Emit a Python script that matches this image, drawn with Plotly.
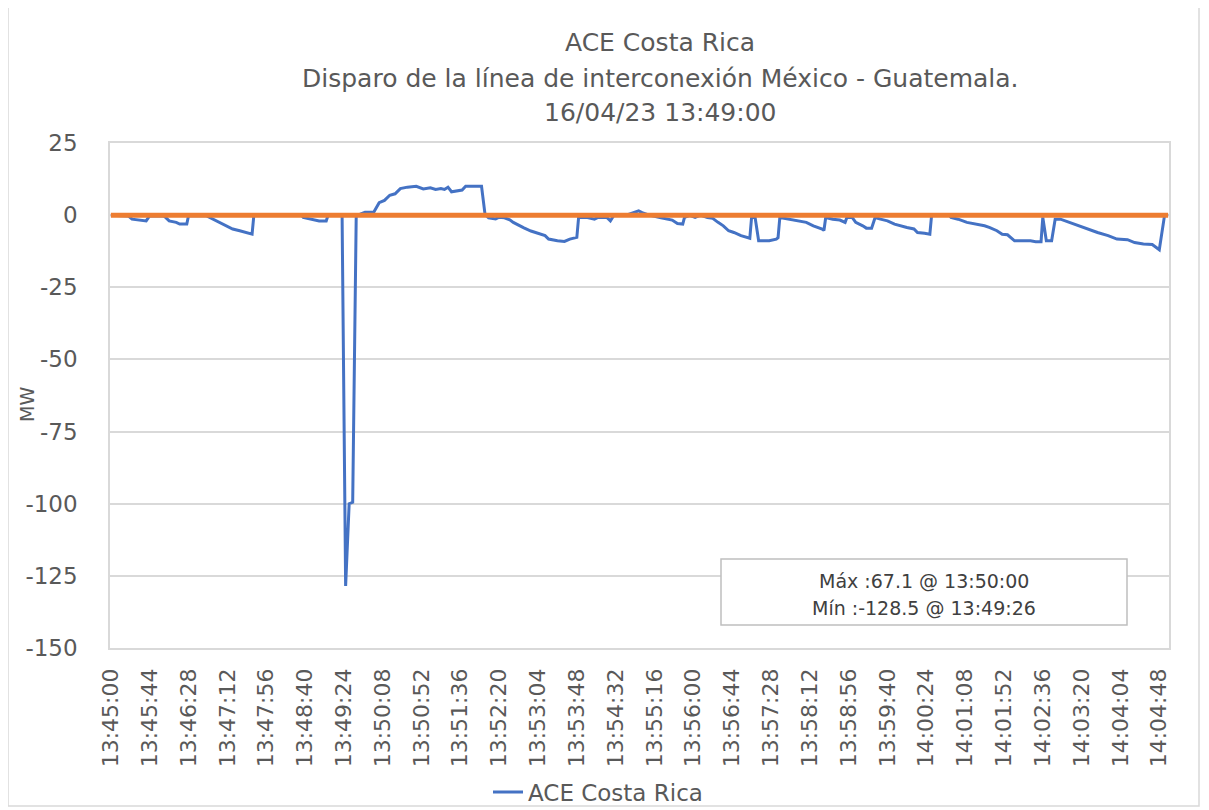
import plotly.graph_objects as go

FECHA = "2023-04-16"

# Breakpoints of the ACE Costa Rica series (time, MW)
tiempos = [
    "13:45:00", "13:45:20", "13:45:24", "13:45:36", "13:45:40", "13:45:44",
    "13:46:00", "13:46:02", "13:46:06", "13:46:14", "13:46:18", "13:46:26", "13:46:28",
    "13:46:48", "13:46:50", "13:46:56", "13:47:02", "13:47:10", "13:47:18", "13:47:26",
    "13:47:32", "13:47:40", "13:47:42", "13:48:36", "13:48:38", "13:48:46", "13:48:56",
    "13:49:04", "13:49:06", "13:49:22", "13:49:26", "13:49:30", "13:49:34", "13:49:38",
    "13:49:48", "13:49:58", "13:50:04", "13:50:10", "13:50:16", "13:50:22", "13:50:28",
    "13:50:36", "13:50:46", "13:50:54", "13:51:02", "13:51:08", "13:51:14", "13:51:18",
    "13:51:22", "13:51:26", "13:51:34", "13:51:38", "13:51:42", "13:52:00", "13:52:04",
    "13:52:08", "13:52:16", "13:52:20", "13:52:26", "13:52:32", "13:52:36", "13:52:42",
    "13:52:48", "13:52:56", "13:53:02", "13:53:06", "13:53:12", "13:53:16", "13:53:26",
    "13:53:34", "13:53:40", "13:53:48", "13:53:50", "13:54:00", "13:54:08", "13:54:12",
    "13:54:22", "13:54:26", "13:54:30", "13:54:44", "13:54:52", "13:54:58", "13:55:02",
    "13:55:10", "13:55:22", "13:55:30", "13:55:36", "13:55:42", "13:55:48", "13:55:50",
    "13:55:56", "13:56:02", "13:56:08", "13:56:16", "13:56:22", "13:56:28", "13:56:34",
    "13:56:40", "13:56:46", "13:56:54", "13:57:00", "13:57:04", "13:57:06", "13:57:10",
    "13:57:14", "13:57:26", "13:57:34", "13:57:36", "13:57:38", "13:57:50", "13:58:00",
    "13:58:08", "13:58:16", "13:58:26", "13:58:28", "13:58:30", "13:58:38", "13:58:46",
    "13:58:52", "13:58:54", "13:59:00", "13:59:04", "13:59:12", "13:59:16", "13:59:22",
    "13:59:26", "13:59:32", "13:59:40", "13:59:48", "13:59:54", "14:00:02", "14:00:10",
    "14:00:14", "14:00:22", "14:00:28", "14:00:30", "14:00:50", "14:00:52", "14:01:00",
    "14:01:10", "14:01:22", "14:01:30", "14:01:36", "14:01:44", "14:01:50", "14:01:56",
    "14:02:04", "14:02:22", "14:02:28", "14:02:34", "14:02:36", "14:02:40", "14:02:46",
    "14:02:50", "14:02:56", "14:03:06", "14:03:16", "14:03:26", "14:03:38", "14:03:50",
    "14:04:00", "14:04:12", "14:04:20", "14:04:30", "14:04:40", "14:04:48", "14:04:54",
    "14:04:58",
]
ace_mw = [
    0.0, -0.3, -1.4, -2.0, -2.0, -0.2,
    -0.3, -0.8, -2.0, -2.5, -3.1, -3.1, -0.2,
    -0.2, -0.5, -1.4, -2.5, -3.7, -4.8, -5.4,
    -6.0, -6.6, -0.1, 0.0, -0.8, -1.4, -2.0,
    -2.0, -0.1, -0.1, -128.5, -100.0, -99.5, -0.2,
    1.0, 1.1, 4.3, 5.1, 6.9, 7.4, 9.2,
    9.7, 10.0, 9.1, 9.5, 8.9, 9.2, 8.9,
    9.7, 8.1, 8.5, 8.7, 10.0, 10.0, 0.2,
    -0.9, -1.3, -0.7, -0.9, -1.6, -2.5, -3.5,
    -4.4, -5.5, -6.0, -6.6, -7.1, -8.3, -8.9,
    -9.1, -8.3, -7.7, -0.8, -0.8, -1.4, -0.8,
    -0.8, -2.0, 0.0, 0.0, 0.9, 1.5, 0.9,
    0.0, -0.8, -1.4, -1.7, -2.9, -3.1, -0.8,
    -0.1, -0.8, 0.0, -0.8, -1.1, -2.5, -3.7,
    -5.4, -6.0, -7.1, -7.7, -8.0, -0.8, -0.8,
    -8.9, -8.9, -8.3, -7.8, -0.8, -1.4, -2.0,
    -2.5, -3.7, -4.8, -5.3, -0.8, -1.4, -1.7,
    -2.5, -0.8, -0.8, -2.5, -3.7, -4.5, -4.5,
    -0.8, -1.4, -2.0, -3.1, -3.7, -4.3, -4.8,
    -6.0, -6.3, -6.6, 0.0, 0.0, -0.8, -1.4,
    -2.5, -3.1, -3.7, -4.3, -5.4, -6.6, -6.8,
    -8.9, -8.9, -9.2, -9.2, -0.8, -8.9, -8.9,
    -1.4, -1.4, -2.5, -3.7, -4.8, -6.0, -7.1,
    -8.3, -8.5, -9.5, -10.0, -10.2, -12.0, 0.0,
    0.0,
]
linea_cero_mw = [0, 0]

etiquetas_x = [
    "13:45:00", "13:45:44", "13:46:28", "13:47:12", "13:47:56", "13:48:40", "13:49:24",
    "13:50:08", "13:50:52", "13:51:36", "13:52:20", "13:53:04", "13:53:48", "13:54:32",
    "13:55:16", "13:56:00", "13:56:44", "13:57:28", "13:58:12", "13:58:56", "13:59:40",
    "14:00:24", "14:01:08", "14:01:52", "14:02:36", "14:03:20", "14:04:04", "14:04:48",
]
ticks_y = [25, 0, -25, -50, -75, -100, -125, -150]

titulo = ["ACE Costa Rica",
          "Disparo de la línea de interconexión México - Guatemala.",
          "16/04/23 13:49:00"]
texto_caja = ["Máx :67.1 @ 13:50:00", "Mín :-128.5 @ 13:49:26"]

# ---- layout geometry (page body has an 8px margin) ----
OFF = 8
W, H = 1209 - OFF, 810 - OFF
PLOT_X0, PLOT_X1, PLOT_Y0, PLOT_Y1 = 110, 1169, 143, 648   # target window pixels
L = PLOT_X0 - OFF
R = W - (PLOT_X1 - OFF)
T = PLOT_Y0 - OFF
B = H - (PLOT_Y1 - OFF)
PW, PH = W - L - R, H - T - B
def px(x):
    return (x - PLOT_X0) / PW
def py(y):
    return (PLOT_Y1 - y) / PH

TXT = "#595959"
GRID = "#D9D9D9"
FONT = "DejaVu Sans"

x_dt = [f"{FECHA} {t}" for t in tiempos]

fig = go.Figure()
fig.add_trace(go.Scatter(
    x=x_dt, y=ace_mw, mode="lines", name="ACE Costa Rica",
    line=dict(color="#4472C4", width=3), showlegend=True))
fig.add_trace(go.Scatter(
    x=[x_dt[0], x_dt[-1]], y=linea_cero_mw, mode="lines", name="0",
    line=dict(color="#ED7D31", width=5), showlegend=False))

annotations = []
for txt, yy in zip(titulo, [42, 78, 113]):
    annotations.append(dict(text=txt, xref="paper", yref="paper", x=px(660), y=py(yy),
                            xanchor="center", yanchor="middle", showarrow=False,
                            font=dict(size=25, color=TXT, family=FONT)))
for txt, yy in zip(texto_caja, [581, 608]):
    annotations.append(dict(text=txt, xref="paper", yref="paper", x=px(924), y=py(yy),
                            xanchor="center", yanchor="middle", showarrow=False,
                            font=dict(size=19, color="#404040", family=FONT)))
annotations.append(dict(text="MW", xref="paper", yref="paper", x=px(27), y=py(405),
                        xanchor="center", yanchor="middle", showarrow=False, textangle=-90,
                        font=dict(size=19, color=TXT, family=FONT)))

shapes = [
    dict(type="rect", xref="paper", yref="paper", x0=px(721), x1=px(1127), y0=py(625), y1=py(559),
         line=dict(color="#BFBFBF", width=1.5), fillcolor="white", layer="above"),
    dict(type="rect", xref="paper", yref="paper", x0=px(8), x1=px(1199), y0=py(806), y1=py(5),
         line=dict(color=GRID, width=1.5), fillcolor="rgba(0,0,0,0)", layer="below"),
]

fig.update_layout(
    width=W, height=H,
    margin=dict(l=L, r=R, t=T, b=B, autoexpand=False),
    paper_bgcolor="white", plot_bgcolor="white",
    font=dict(family=FONT, color=TXT),
    showlegend=True,
    legend=dict(orientation="h", x=px(598), xanchor="center", y=py(792), yanchor="middle",
                font=dict(size=23, color=TXT, family=FONT), bgcolor="rgba(0,0,0,0)"),
    annotations=annotations, shapes=shapes,
    xaxis=dict(type="date", range=[f"{FECHA} 13:44:59", f"{FECHA} 14:04:59"],
               tickvals=[f"{FECHA} {t}" for t in etiquetas_x], ticktext=etiquetas_x,
               tickangle=-90, showgrid=False, zeroline=False, ticks="",
               showline=True, linecolor=GRID, linewidth=1.5, mirror=True,
               tickfont=dict(size=22, color=TXT, family=FONT), ticklabelstandoff=10),
    yaxis=dict(range=[-150, 25], tickvals=ticks_y, ticktext=[str(v) for v in ticks_y],
               showgrid=True, gridcolor=GRID, gridwidth=1.5, zeroline=False, ticks="",
               showline=True, linecolor=GRID, linewidth=1.5, mirror=True,
               tickfont=dict(size=23, color=TXT, family=FONT), ticklabelstandoff=26),
)

fig.write_html("out.html")
